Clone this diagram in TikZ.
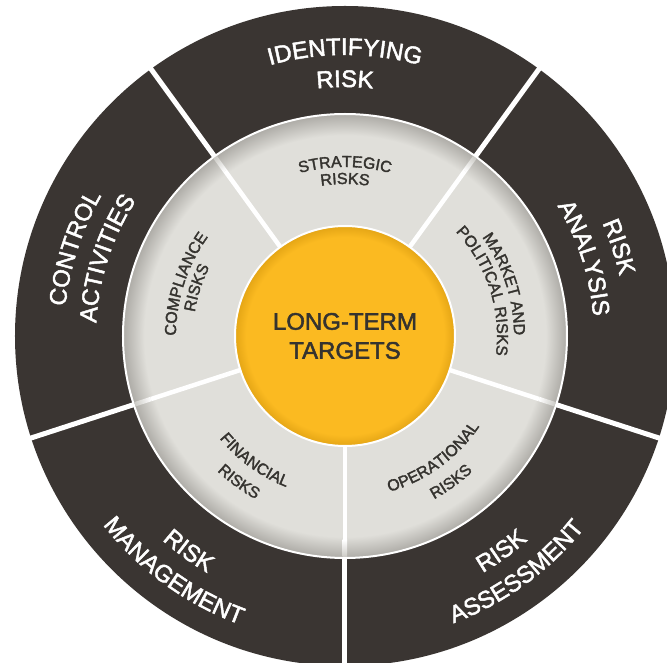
\documentclass[tikz,border=0pt]{standalone}
\usepackage{fontspec}
\setmainfont{Liberation Sans}[FakeBold=2]
\usetikzlibrary{decorations.text}
\definecolor{ringdark}{HTML}{3A3532}
\definecolor{ringgray}{HTML}{E0DFDA}
\definecolor{ringgrayedge}{HTML}{ADABA6}
\definecolor{coreyellow}{HTML}{FBBA21}
\definecolor{coreedge}{HTML}{E4A515}
\definecolor{labeldark}{HTML}{35332F}
\pgfdeclareradialshading{grayring}{\pgfpoint{0bp}{0bp}}{color(0bp)=(ringgray); color(22.6bp)=(ringgray); color(25bp)=(ringgrayedge); color(50bp)=(ringgrayedge)}
\pgfdeclareradialshading{coreshade}{\pgfpoint{0bp}{0bp}}{color(0bp)=(coreyellow); color(22.5bp)=(coreyellow); color(25bp)=(coreedge); color(50bp)=(coreedge)}
\newcommand{\ringout}[5]{\path[decorate,decoration={text along path,text align=center,text={|\fontsize{#4}{#4}\selectfont\color{#5}|#3}}] ({#1+50}:#2) arc[start angle={#1+50}, end angle={#1-50}, radius=#2];}
\newcommand{\ringin}[5]{\path[decorate,decoration={text along path,text align=center,text={|\fontsize{#4}{#4}\selectfont\color{#5}|#3}}] ({#1-50}:#2) arc[start angle={#1-50}, end angle={#1+50}, radius=#2];}
\tikzset{
  corestyle/.style={circle, minimum size=220pt, inner sep=0pt, shade, shading=coreshade, draw=white, line width=2pt, text=labeldark, align=center, font=\fontsize{24}{29}\selectfont},
  outerdiv/.style={white, line width=5pt},
  innerdiv/.style={white, line width=4.5pt}
}
\begin{document}
\begin{tikzpicture}
\useasboundingbox (-345pt,-327pt) rectangle (322pt,336pt);
\fill[white] (-345pt,-327pt) rectangle (322pt,336pt);
\coordinate (O) at (0pt,0pt);
\fill[ringdark] (O) circle[radius=330pt];
\shade[shading=grayring] (O) circle[radius=222pt];
\draw[white, line width=2pt] (O) circle[radius=222pt];
\foreach \a in {54,126,198,270,342} {
  \draw[outerdiv] (\a:222pt) -- (\a:340pt);
  \draw[innerdiv] (\a:100pt) -- (\a:204pt);
  \begin{scope}[transform canvas={rotate=\a}]
    \shade[left color=white, right color=ringgrayedge!40!ringgray] (204pt,-2.25pt) rectangle (221pt,2.25pt);
  \end{scope}
}
\node[corestyle] (core) at (O) {LONG-TERM\\TARGETS};
% outer ring labels
\ringout{90}{281pt}{IDENTIFYING}{24}{white}
\ringout{90}{249pt}{RISK}{24}{white}
\ringout{18}{281pt}{RISK}{24}{white}
\ringout{18}{249pt}{ANALYSIS}{24}{white}
\ringout{162}{281pt}{CONTROL}{24}{white}
\ringout{162}{249pt}{ACTIVITIES}{24}{white}
\ringin{234}{274pt}{RISK}{24}{white}
\ringin{234}{307pt}{MANAGEMENT}{24}{white}
\ringin{306}{274pt}{RISK}{24}{white}
\ringin{306}{307pt}{ASSESSMENT}{24}{white}
% middle ring labels
\ringout{90}{169pt}{STRATEGIC}{16}{labeldark}
\ringout{90}{152pt}{RISKS}{16}{labeldark}
\ringout{18}{169pt}{MARKET AND}{16}{labeldark}
\ringout{18}{152pt}{POLITICAL RISKS}{16}{labeldark}
\ringout{162}{169pt}{COMPLIANCE}{16}{labeldark}
\ringout{162}{152pt}{RISKS}{16}{labeldark}
\ringin{234}{162pt}{FINANCIAL}{16}{labeldark}
\ringin{234}{186pt}{RISKS}{16}{labeldark}
\ringin{306}{162pt}{OPERATIONAL}{16}{labeldark}
\ringin{306}{186pt}{RISKS}{16}{labeldark}
\end{tikzpicture}
\end{document}
